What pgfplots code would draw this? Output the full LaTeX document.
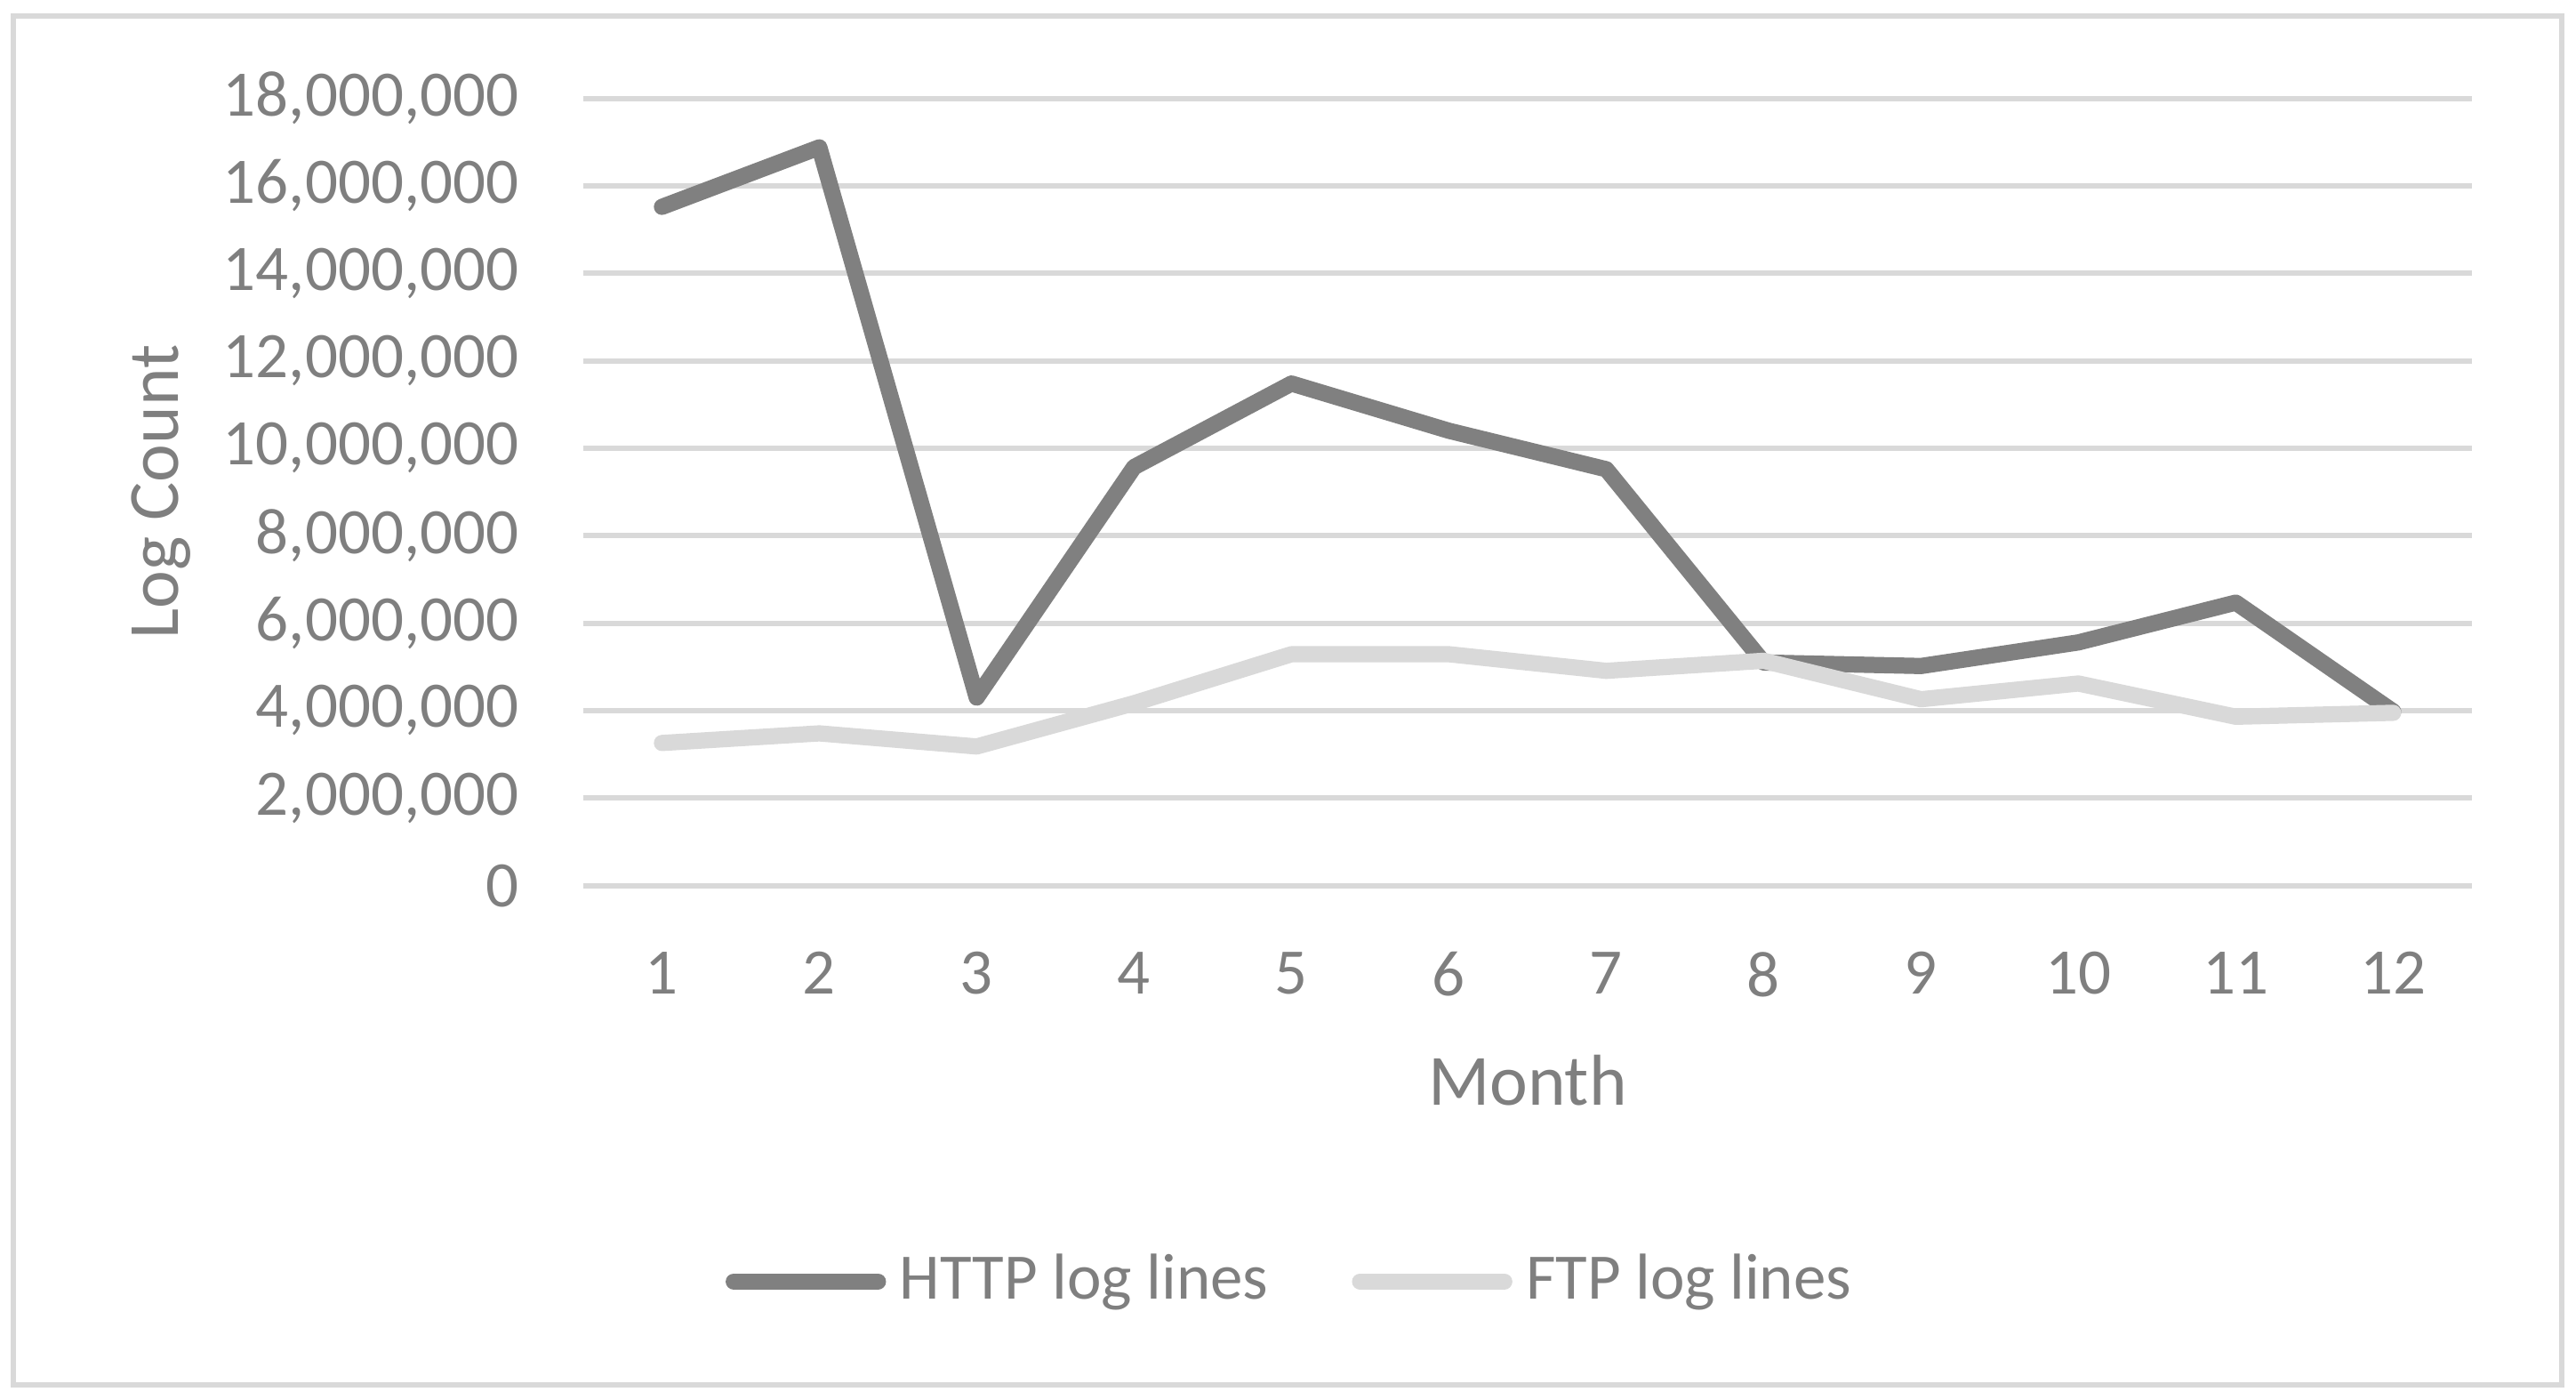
\documentclass[border=0pt]{standalone}
\usepackage{pgfplots}
\pgfplotsset{compat=1.18}
\usepackage{fontspec}
\setmainfont{Carlito}
\definecolor{txt}{HTML}{7F7F7F}
\definecolor{httpc}{HTML}{808080}
\definecolor{ftpc}{HTML}{D9D9D9}
\definecolor{gridc}{HTML}{D9D9D9}
\begin{document}
\begin{tikzpicture}[x=1pt,y=1pt]
\path[use as bounding box] (0,0) rectangle (357.3,194.1);
\draw[gridc, line width=0.7pt] (1.85,2.1) rectangle (355.3,191.9);
\begin{axis}[
  at={(80.9pt,71.3pt)}, anchor=south west,
  scale only axis, width=261.96pt, height=109.15pt,
  xmin=0.5, xmax=12.5, ymin=0, ymax=18000000,
  xtick={1,2,3,4,5,6,7,8,9,10,11,12},
  ytick={0,2000000,4000000,6000000,8000000,10000000,12000000,14000000,16000000,18000000},
  scaled ticks=false,
  axis line style={draw=none},
  major tick length=0pt,
  ymajorgrids,
  major grid style={draw=gridc, line width=0.75pt},
  tick label style={font=\fontsize{9}{11}\selectfont, text=txt},
  /pgf/number format/assume math mode=true,
  yticklabel style={anchor=east, inner sep=0pt, xshift=-8.76pt,
    /pgf/number format/fixed, /pgf/number format/precision=0,
    /pgf/number format/1000 sep={,}},
  xticklabel style={anchor=north, inner sep=0pt, yshift=-9.0pt},
  xlabel={Month}, ylabel={Log Count},
  every axis x label/.style={at={(axis description cs:0.5,-0.279)}, anchor=base,
    font=\fontsize{10}{12}\selectfont, text=txt},
  every axis y label/.style={at={(axis description cs:-0.2236,0.5)}, rotate=90, anchor=center,
    font=\fontsize{10}{12}\selectfont, text=txt},
  legend columns=2,
  legend cell align=left,
  legend style={draw=none, fill=none, inner sep=0pt, outer sep=0pt,
    at={(axis description cs:0.0754,-0.503)}, anchor=west,
    font=\fontsize{9}{11}\selectfont, text=txt, column sep=0pt,
    nodes={inner sep=0pt},
    /tikz/every odd column/.append style={column sep=1.9pt},
    /tikz/every even column/.append style={column sep=11.6pt}},
  legend image code/.code={\draw[#1, line cap=round] (0pt,0pt) -- (20pt,0pt);},
]
\addplot[httpc, line width=2.25pt, line join=round, line cap=round] coordinates {
(1,15520000) (2,16880000) (3,4300000) (4,9570000) (5,11480000) (6,10400000)
(7,9520000) (8,5100000) (9,5020000) (10,5560000) (11,6470000) (12,3980000)};
\addlegendentry{HTTP log lines}
\addplot[ftpc, line width=2.25pt, line join=round, line cap=round] coordinates {
(1,3260000) (2,3480000) (3,3180000) (4,4170000) (5,5290000) (6,5290000)
(7,4910000) (8,5140000) (9,4260000) (10,4620000) (11,3860000) (12,3950000)};
\addlegendentry{FTP log lines}
\end{axis}
\end{tikzpicture}
\end{document}
